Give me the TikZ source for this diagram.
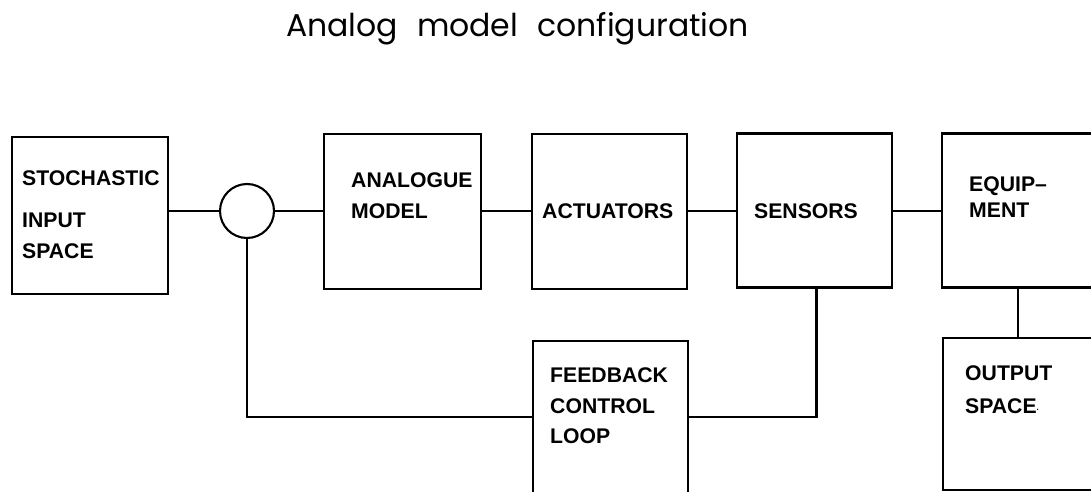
\documentclass[tikz,border=0pt]{standalone}
\usepackage{fontspec}
\setmainfont{Liberation Sans}
\newfontfamily\titlefont{Poppins}
\usetikzlibrary{calc}
\begin{document}
\begin{tikzpicture}[x=1pt,y=-1pt,
  blk/.style={draw, line width=2.1pt, rectangle, inner sep=0pt},
  wire/.style={draw, line width=2.1pt},
  lbl/.style={anchor=base west, inner sep=0pt, font=\fontsize{21.2}{24}\selectfont\bfseries},
  ttl/.style={anchor=base west, inner sep=0pt, font=\fontsize{31.5}{34}\selectfont\titlefont}]
\useasboundingbox (0,0) rectangle (1091,492);
\clip (0,0) rectangle (1091,492);
% title
\node[ttl] (title) at (286,37) {Analog\hspace{19pt}model\hspace{19pt}configuration};
% boxes
\node[blk, minimum width=156pt, minimum height=157pt] (stoch) at (90,215.5) {};
\node[blk, circle, minimum size=54pt] (sum) at (247,211) {};
\node[blk, minimum width=157pt, minimum height=155pt] (model) at (402.5,211.5) {};
\node[blk, minimum width=155pt, minimum height=155pt] (act) at (609.5,211.5) {};
\node[blk, minimum width=155pt, minimum height=154pt] (sens) at (814.5,210.5) {};
\node[blk, minimum width=180pt, minimum height=154pt] (equip) at (1032,210.5) {};
\node[blk, minimum width=180pt, minimum height=152pt] (out) at (1033,414) {};
\node[blk, minimum width=155pt, minimum height=170pt] (fb) at (610.5,426) {};
% labels
\node[lbl] (l1) at (22,185) {STOCHASTIC};
\node[lbl] (l2) at (22,227) {INPUT};
\node[lbl] (l3) at (22,258) {SPACE};
\node[lbl] (l4) at (351,187) {ANALOGUE};
\node[lbl] (l5) at (351,218) {MODEL};
\node[lbl] (l6) at (542,218) {ACTUATORS};
\node[lbl] (l7) at (754,218) {SENSORS};
\node[lbl] (l8) at (969,191) {EQUIP--};
\node[lbl] (l9) at (969,217) {MENT};
\node[lbl] (l10) at (965,380) {OUTPUT};
\node[lbl] (l11) at (965,413) {SPACE\raisebox{3pt}{\fontsize{8}{8}\selectfont.}};
\node[lbl] (l12) at (550,382) {FEEDBACK};
\node[lbl] (l13) at (550,413) {CONTROL};
\node[lbl] (l14) at (550,443) {LOOP};
% connectors
\path[wire] (stoch.east |- sum.west) -- (sum.west);
\path[wire] (sum.east) -- (model.west |- sum.east);
\path[wire] (model.east |- sum.east) -- (act.west |- sum.east);
\path[wire] (act.east |- sum.east) -- (sens.west |- sum.east);
\path[wire] (sens.east |- sum.east) -- (equip.west |- sum.east);
\coordinate (fbin) at ($(fb.west)+(0,-9)$);
\path[wire] (sum.south) |- (fbin);
\coordinate (fbout) at ($(fb.east)+(0,-9)$);
\path[wire] ($(sens.south)+(2,0)$) |- (fbout);
\coordinate (eqdrop) at ($(equip.south west)+(77,0)$);
\path[wire] (eqdrop) -- (eqdrop |- out.north);
\end{tikzpicture}
\end{document}
